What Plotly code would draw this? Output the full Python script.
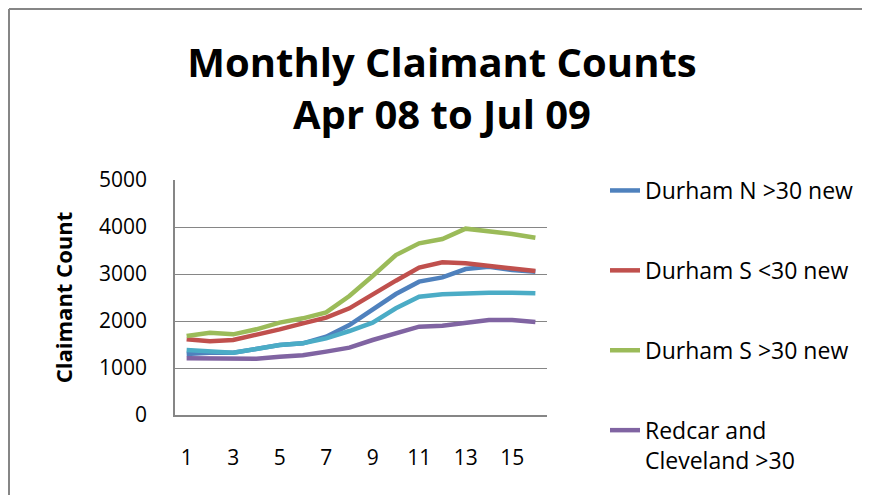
import plotly.graph_objects as go

months = list(range(1, 17))
durham_n_over30 = [1298, 1326, 1326, 1418, 1489, 1525, 1667, 1915, 2234, 2574, 2837, 2929, 3106, 3156, 3085, 3050]
durham_s_under30 = [1610, 1567, 1596, 1702, 1823, 1950, 2071, 2270, 2574, 2858, 3135, 3248, 3227, 3177, 3128, 3064]
durham_s_over30 = [1681, 1752, 1716, 1823, 1965, 2057, 2184, 2532, 2957, 3404, 3652, 3745, 3965, 3915, 3851, 3773]
redcar_over30 = [1206, 1206, 1184, 1199, 1241, 1270, 1348, 1433, 1596, 1738, 1879, 1901, 1950, 2021, 2021, 1979]
redcar_under30 = [1383, 1348, 1326, 1404, 1489, 1525, 1631, 1787, 1965, 2270, 2518, 2567, 2589, 2603, 2603, 2589]

x_ticks = [1, 3, 5, 7, 9, 11, 13, 15]
y_ticks = [0, 1000, 2000, 3000, 4000, 5000]

series = [
    ("Durham N >30 new", durham_n_over30, "#4F81BD", True),
    ("Durham S <30 new", durham_s_under30, "#C0504D", True),
    ("Durham S >30 new", durham_s_over30, "#9BBB59", True),
    ("Redcar and<br>Cleveland >30", redcar_over30, "#8064A2", True),
    ("Redcar and<br>Cleveland <30", redcar_under30, "#4BACC6", False),
]

FONT = "Open Sans, Lato, sans-serif"
OFF = 8  # page body margin
W, H = 870 - OFF, 495 - OFF
L, R, T, B = 175 - OFF, 547 - OFF, 180 - OFF, 415 - OFF
MT, MB = 8, 8  # outer margins (plot area domain set via yaxis.domain)
GH = H - MT - MB


def py(pix):
    """layout pixel (from top) -> paper y fraction"""
    return (H - MB - pix) / GH


pw = R - L

fig = go.Figure()
for i, (name, vals, col, show) in enumerate(series):
    fig.add_trace(go.Scatter(
        x=months, y=vals, mode="lines", name=name,
        line=dict(color=col, width=4.5),
        showlegend=show, legendgroup=f"g{i}",
    ))

bx = 9 - OFF
by = 9 - OFF
# chart-area border (left and top edges visible)
fig.add_shape(type="line", xref="paper", yref="paper",
              x0=(bx - L) / pw, x1=(bx - L) / pw, y0=py(by), y1=py(520),
              line=dict(color="#868686", width=2))
fig.add_shape(type="line", xref="paper", yref="paper",
              x0=(bx - L) / pw, x1=(900 - L) / pw, y0=py(by), y1=py(by),
              line=dict(color="#868686", width=2))

fig.update_layout(
    width=W, height=H,
    margin=dict(l=L, r=W - R, t=MT, b=MB, autoexpand=False),
    paper_bgcolor="white", plot_bgcolor="white",
    font=dict(family=FONT, color="black", size=21),
    title=dict(
        text="<b>Monthly Claimant Counts<br>Apr 08 to Jul 09</b>",
        font=dict(family=FONT, size=40, color="black"),
        x=(442 - OFF) / W, xref="container", xanchor="center",
        y=1 - (77 - OFF) / H, yref="container", yanchor="top",
    ),
    xaxis=dict(
        range=[0.5, 16.5], tickmode="array", tickvals=x_ticks,
        ticktext=[str(v) for v in x_ticks],
        showgrid=False, zeroline=False, showline=True, linecolor="#868686", linewidth=1.5,
        ticks="", ticklabelstandoff=23, tickfont=dict(size=21),
    ),
    yaxis=dict(
        domain=[py(B), py(T)],
        range=[0, 5000], tickmode="array", tickvals=y_ticks,
        ticktext=[str(v) for v in y_ticks],
        showgrid=True, gridcolor="#868686", gridwidth=1.2,
        zeroline=False, showline=True, linecolor="#868686", linewidth=1.5,
        ticks="", ticklabelstandoff=22, tickfont=dict(size=21),
        title=dict(text="<b>Claimant Count</b>", font=dict(size=22), standoff=20),
        automargin=True,
    ),
    legend=dict(
        x=(605 - OFF) / W, xref="container", xanchor="left",
        y=1 - (169 - OFF) / H, yref="container", yanchor="top",
        font=dict(size=23), tracegroupgap=47, valign="top",
        bgcolor="rgba(0,0,0,0)", maxheight=1,
    ),
    showlegend=True,
)

fig.write_html("out.html")
